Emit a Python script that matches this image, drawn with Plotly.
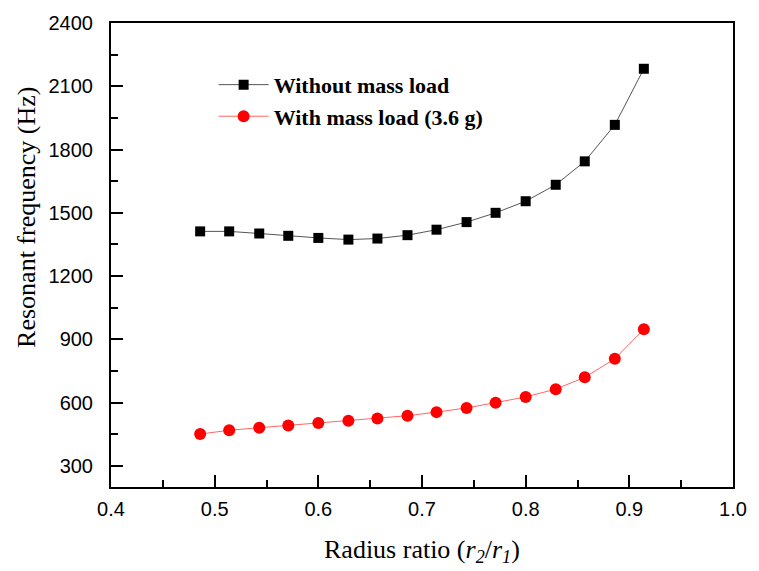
import plotly.graph_objects as go

ratio = [0.486, 0.514, 0.543, 0.571, 0.600, 0.629, 0.657, 0.686,
         0.714, 0.743, 0.771, 0.800, 0.829, 0.857, 0.886, 0.914]
freq_no_load = [1412, 1412, 1402, 1391, 1381, 1373, 1378, 1394,
                1420, 1456, 1500, 1555, 1633, 1744, 1917, 2183]
freq_load = [451, 469, 481, 492, 503, 514, 525, 538,
             555, 575, 600, 627, 664, 720, 808, 948]
x_ticks = [0.4, 0.5, 0.6, 0.7, 0.8, 0.9, 1.0]
x_tick_text = ["0.4", "0.5", "0.6", "0.7", "0.8", "0.9", "1.0"]
y_ticks = [300, 600, 900, 1200, 1500, 1800, 2100, 2400]

SERIF = "Liberation Serif, Times New Roman, serif"
SANS = "Liberation Sans, Arial, sans-serif"

fig = go.Figure()
fig.add_trace(go.Scatter(
    x=ratio, y=freq_no_load, mode="lines+markers",
    name="<b>Without mass load</b>",
    line=dict(color="#555555", width=1),
    marker=dict(symbol="square", size=10, color="black"),
))
fig.add_trace(go.Scatter(
    x=ratio, y=freq_load, mode="lines+markers",
    name="<b>With mass load (3.6 g)</b>",
    line=dict(color="#ff6666", width=1),
    marker=dict(symbol="circle", size=12, color="#ff0000"),
))

axis_common = dict(
    showline=True, linecolor="black", linewidth=2, mirror=True,
    ticks="inside", ticklen=12, tickwidth=2, tickcolor="black",
    showgrid=False, zeroline=False,
    tickfont=dict(family=SANS, size=20, color="black"),
)

fig.update_xaxes(
    range=[0.4, 1.0], tickvals=x_ticks, ticktext=x_tick_text,
    minor=dict(ticks="inside", ticklen=7, tickwidth=2, tickcolor="black", dtick=0.05, tick0=0.4),
    ticklabelstandoff=3,
    **axis_common,
)
fig.update_yaxes(
    range=[200, 2400], tickvals=y_ticks,
    minor=dict(ticks="inside", ticklen=7, tickwidth=2, tickcolor="black", dtick=150, tick0=300),
    ticklabelstandoff=12,
    **axis_common,
)

fig.add_annotation(
    text="Radius ratio (<i>r</i><sub><i>2</i></sub>/<i>r</i><sub><i>1</i></sub>)",
    xref="paper", yref="paper", x=0.5, y=-0.1, xanchor="center", yanchor="top",
    showarrow=False, font=dict(family=SERIF, size=26, color="black"),
)
fig.add_annotation(
    text="Resonant frequency (Hz)",
    xref="paper", yref="paper", x=-0.135, y=0.58, xanchor="center", yanchor="middle",
    textangle=-90, showarrow=False, font=dict(family=SERIF, size=26, color="black"),
)

fig.update_layout(
    width=759, height=571,
    margin=dict(l=111, r=16, t=17, b=84),
    paper_bgcolor="white", plot_bgcolor="white",
    showlegend=True,
    legend=dict(
        x=0.165, y=0.912, xanchor="left", yanchor="top",
        bgcolor="rgba(0,0,0,0)", borderwidth=0,
        font=dict(family=SERIF, size=22, color="black"),
        itemwidth=50, tracegroupgap=0,
    ),
)

fig.write_html("out.html")
